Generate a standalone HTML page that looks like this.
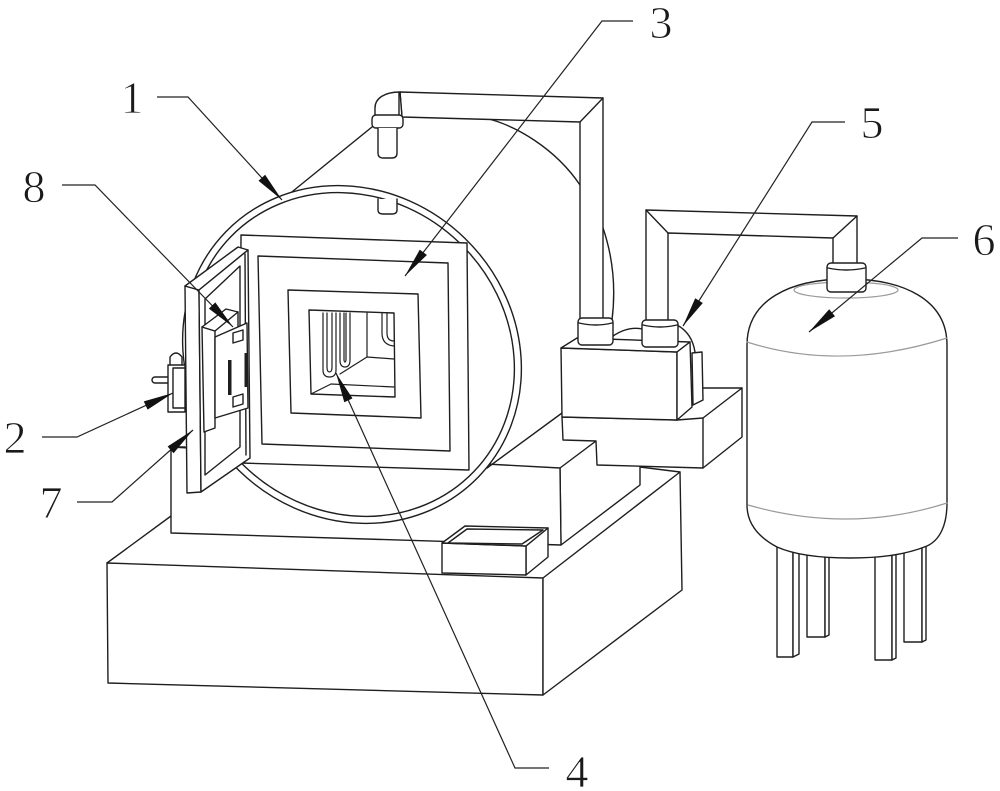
<!DOCTYPE html>
<html><head><meta charset="utf-8">
<style>
html,body{margin:0;padding:0;background:#fff;}
svg{display:block;}
text{font-family:"Liberation Serif",serif;font-size:46px;fill:#1a1a1a;stroke:#fff;stroke-width:0.8;}
</style></head>
<body>
<svg width="1000" height="791" viewBox="0 0 1000 791" xmlns="http://www.w3.org/2000/svg">
<rect width="1000" height="791" fill="#fff"/>
<g fill="#fff" stroke="#1e1e1e" stroke-width="1.4" stroke-linejoin="round" stroke-linecap="round">

<!-- base box -->
<polygon points="107,563 543,578 543,695 108,683"/>
<polygon points="543,578 680,472 682,590 543,695"/>
<line x1="107" y1="563" x2="171" y2="516"/>
<line x1="640" y1="467" x2="680" y2="472"/>

<!-- pedestal -->
<polygon points="560,468 640,408 640,485 561,545"/>
<polygon points="171,447 560,468 561,545 171,533"/>

<!-- drum lines -->
<path fill="none" d="M282,200 L372,127"/>
<path fill="none" d="M485,118 C515,125 555,148 580,185"/>
<path fill="none" d="M603,228 Q618,272 612,320"/>
<line x1="487" y1="468" x2="562" y2="413"/>

<!-- pipe A -->
<polygon points="400,92 603,98 603,320 580,320 580,122 402,117"/>
<line x1="580" y1="122" x2="603" y2="98"/>
<path d="M375,117 V108 C375,98 385,92 400,92 L402,117 Z"/>
<line x1="399" y1="93" x2="399" y2="116"/>
<rect x="372" y="115" width="31" height="13" rx="4"/>
<path d="M378,128 V153 Q378,158 383,158 H392 Q397,158 397,153 V128"/>

<!-- front ring -->
<g transform="translate(352,354.5) rotate(44)">
<ellipse rx="176" ry="162"/>
<ellipse rx="169" ry="155"/>
</g>
<path d="M378,199 V210 Q378,214 383,214 H392 Q397,214 397,210 V199"/>

<!-- furnace front -->
<polygon points="241,235 467,243 469,470 240,463"/>
<polygon fill="none" points="258,256 448,263 450,451 262,444"/>
<polygon fill="none" points="288,290 418,294 421,418 291,413"/>
<polygon fill="none" points="309,310 394,313 395,397 311,394"/>
<g fill="none" stroke-width="1.2">
<line x1="367" y1="313" x2="367" y2="357"/>
<line x1="367" y1="357" x2="394" y2="359"/>
<line x1="367" y1="357" x2="340" y2="374"/>
<line x1="311" y1="394" x2="331" y2="384"/>
<line x1="331" y1="384" x2="394" y2="387"/>
<path d="M323,313 V370 Q323,377 329.5,377 Q336,377 336,370 V313"/>
<path d="M327,313 V367 Q327,372 329.5,372 Q332,372 332,367 V313"/>
<path d="M340,313 V360 Q340,367 345,367 Q350,367 350,360 V313"/>
<path d="M344,313 V359 Q344,362 345,362 Q346,362 346,359 V313"/>
<path d="M382,313 V333 Q382,345 394,346"/>
<path d="M387,313 V333 Q387,341 394,341"/>
</g>

<!-- door -->
<polygon points="185,286 199,290 201,492 187,493"/>
<polygon points="185,286 238,247 248,250 199,290"/>
<polygon points="199,290 248,250 250,458 201,492"/>
<polygon fill="none" points="205,299 240,266 240,447 205,475"/>
<line x1="245" y1="254" x2="246" y2="455"/>

<!-- handle -->
<polygon points="202,327 215,331 215,428 204,432"/>
<polygon points="202,327 226,309 238,312 215,331"/>
<polygon points="215,337 247,323 248,408 215,418"/>
<line x1="238" y1="312" x2="238" y2="326"/>
<polygon points="233,333 243,330 243,340 233,343"/>
<polygon points="233,397 243,394 243,404 233,407"/>
<rect x="228" y="360" width="3.5" height="35" fill="#1e1e1e" stroke="none"/>
<rect x="244.5" y="353" width="2.5" height="34" fill="#1e1e1e" stroke="none"/>

<!-- hinge -->
<rect x="152" y="377" width="20" height="6" rx="3"/>
<path d="M170,365 V357 Q176,349 182,357 V365"/>
<rect x="168" y="365" width="17" height="47"/>
<rect x="173" y="368" width="12" height="40"/>
<line x1="171" y1="447" x2="185" y2="447"/>

<!-- pump lower block -->
<polygon points="562,417 677,420 703,418 742,388 742,437 703,468 597,465 596,441 563,440"/>
<line x1="703" y1="418" x2="703" y2="468"/>
<line x1="702" y1="388" x2="742" y2="388"/>
<!-- pump upper box -->
<polygon points="561,348 677,352 677,420 562,417"/>
<polygon points="561,348 577,338 690,342 677,352"/>
<polygon points="677,352 690,342 692,407 677,420"/>
<polygon points="692,353 702,352 703,400 693,405"/>
<path fill="none" d="M613,336 Q628,326 642,329"/>
<path fill="none" d="M677,325 Q692,333 695,352"/>

<!-- pipe B -->
<polygon points="646,210 857,216 857,266 833,266 833,238 668,233 668,322 646,322"/>
<line x1="646" y1="210" x2="668" y2="233"/>
<line x1="857" y1="216" x2="833" y2="238"/>
<rect x="578" y="318" width="35" height="27" rx="4"/>
<path fill="none" d="M579,323 Q596,327 612,323"/>
<rect x="642" y="320" width="36" height="27" rx="4"/>
<path fill="none" d="M643,325 Q660,329 677,325"/>

<!-- tank legs -->
<polygon points="777,540 793,540 793,657 777,657"/>
<polygon points="793,540 799,540 799,654 793,657"/>
<polygon points="807,540 825,540 825,637 807,637"/>
<polygon points="825,540 829,540 829,635 825,637"/>
<polygon points="875,540 892,540 892,660 875,660"/>
<polygon points="892,540 896,540 896,658 892,660"/>
<polygon points="904,540 922,540 922,642 904,642"/>
<polygon points="922,540 926,540 926,640 922,642"/>
<!-- tank body -->
<path d="M747,345 C747,300 790,279 847,279 C904,279 947,300 947,345 L947,503 C947,525 940,540 927,546 C905,555 880,558 850,558 C820,558 795,555 777,547 C760,538 747,525 747,505 Z"/>
<g fill="none" stroke="#9a9a9a" stroke-width="1.2">
<ellipse cx="846" cy="290" rx="52" ry="8"/>
<path d="M747,342 Q840,372 947,338"/>
<path d="M748,505 Q850,534 947,503"/>
</g>
<rect x="827" y="263" width="39" height="29" rx="4"/>
<path fill="none" d="M828,268 Q846,272 865,268"/>

<!-- tray -->
<polygon points="526,546 548,528 548,557 526,575"/>
<polygon points="442,543 526,546 526,575 442,573"/>
<polygon points="442,543 465,526 548,528 526,546"/>
<polygon fill="none" points="448,543 467,529 543,530 522,544"/>
</g>

<!-- leaders -->
<g fill="none" stroke="#222" stroke-width="1.2">
<polyline points="157,97 188,97 282,200"/>
<polyline points="62,185 95,185 233,327"/>
<polyline points="633,21 602,21 405,276"/>
<polyline points="845,122 812,122 683,326"/>
<polyline points="958,238 922,238 809,332"/>
<polyline points="42,437 77,437 173,393"/>
<polyline points="77,502 112,502 193,430"/>
<polyline points="549,768 515,768 336,373"/>
</g>
<g fill="#111" stroke="none">
<polygon points="282,200 258.5,180.8 265.1,174.8"/>
<polygon points="233,327 208.9,308.6 215.3,302.4"/>
<polygon points="405,276 419.8,249.6 426.9,255.0"/>
<polygon points="683,326 695.2,298.2 702.8,303.0"/>
<polygon points="809,332 829.2,309.3 835.0,316.3"/>
<polygon points="173,393 147.6,409.6 143.8,401.4"/>
<polygon points="193,430 173.6,453.3 167.6,446.5"/>
<polygon points="336,373 352.5,398.4 344.3,402.2"/>
</g>

<!-- labels -->
<g text-anchor="middle">
<text x="132" y="113">1</text>
<text x="34" y="202">8</text>
<text x="661" y="38">3</text>
<text x="872" y="138">5</text>
<text x="984" y="255">6</text>
<text x="15" y="453">2</text>
<text x="51" y="518">7</text>
<text x="577" y="787">4</text>
</g>
</svg>
</body></html>
